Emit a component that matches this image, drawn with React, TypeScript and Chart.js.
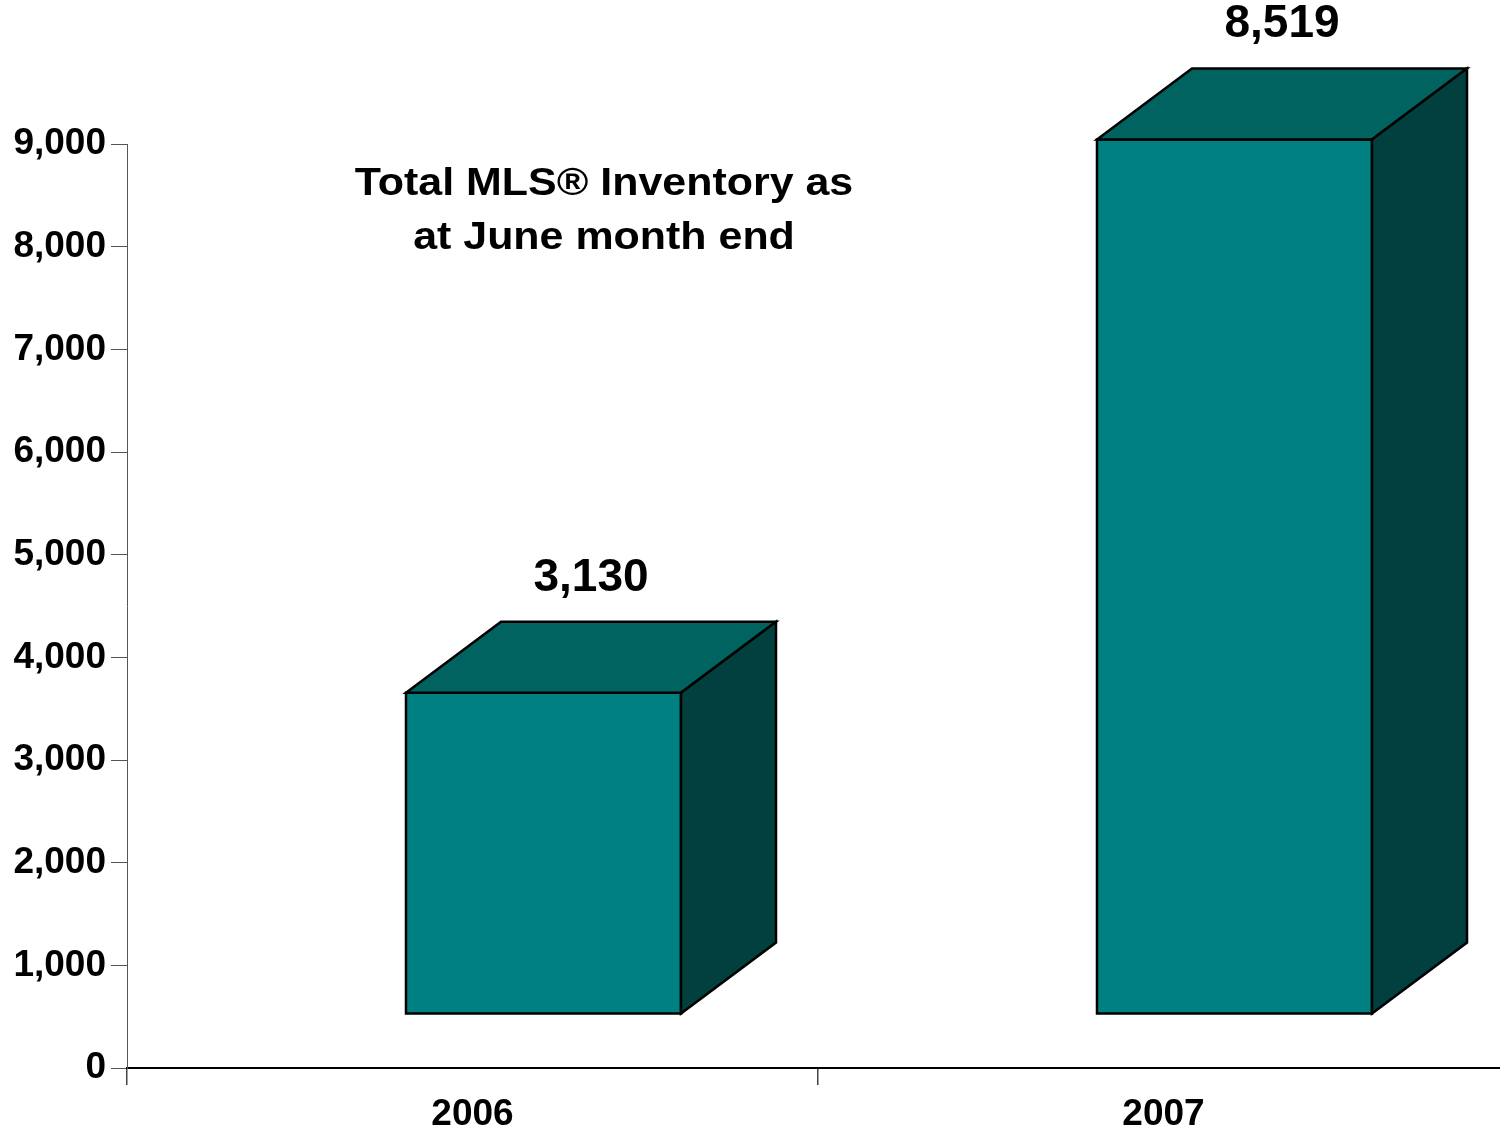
import React, { useEffect, useRef } from "react";
import { Chart, registerables } from "chart.js";

Chart.register(...registerables);

const categories = ["2006", "2007"];
const inventory = [3130, 8519];
const valueLabels = ["3,130", "8,519"];
const titleLines = ["Total MLS® Inventory as", "at June month end"];
const yMin = 0;
const yMax = 9000;
const yStep = 1000;

const FONT = 'Arial, "Liberation Sans", Helvetica, sans-serif';

export default function App() {
  const ref = useRef<HTMLCanvasElement>(null);

  useEffect(() => {
    const canvas = ref.current;
    if (!canvas) return;

    const box3d = {
      id: "box3d",
      afterDatasetsDraw(chart: any) {
        const ctx = chart.ctx as CanvasRenderingContext2D;
        const meta = chart.getDatasetMeta(0);
        const shiftX = 71;
        const shiftY = 54;
        const dx = 95;
        const dy = 71;
        meta.data.forEach((el: any, i: number) => {
          const { x, y, base, width } = el.getProps(["x", "y", "base", "width"], true);
          const l = x + shiftX - width / 2;
          const r = l + width;
          const t = y - shiftY;
          const b = base - shiftY;
          ctx.save();
          ctx.lineWidth = 2.5;
          ctx.strokeStyle = "#000";
          ctx.lineJoin = "miter";
          // front face
          ctx.fillStyle = "#008080";
          ctx.beginPath();
          ctx.rect(l, t, width, b - t);
          ctx.fill();
          ctx.stroke();
          // top face
          ctx.fillStyle = "#006360";
          ctx.beginPath();
          ctx.moveTo(l, t);
          ctx.lineTo(l + dx, t - dy);
          ctx.lineTo(r + dx, t - dy);
          ctx.lineTo(r, t);
          ctx.closePath();
          ctx.fill();
          ctx.stroke();
          // side face
          ctx.fillStyle = "#024040";
          ctx.beginPath();
          ctx.moveTo(r, t);
          ctx.lineTo(r + dx, t - dy);
          ctx.lineTo(r + dx, b - dy);
          ctx.lineTo(r, b);
          ctx.closePath();
          ctx.fill();
          ctx.stroke();
          // value label
          ctx.fillStyle = "#000";
          ctx.font = `bold 46px ${FONT}`;
          ctx.textAlign = "center";
          ctx.textBaseline = "alphabetic";
          ctx.fillText(valueLabels[i], l + (width + dx) / 2, t - dy - 31);
          ctx.restore();
        });

        // title text inside plot
        ctx.save();
        ctx.fillStyle = "#000";
        ctx.font = `bold 38px ${FONT}`;
        ctx.textAlign = "center";
        ctx.textBaseline = "alphabetic";
        const cx = 604;
        const baselines = [195, 249];
        titleLines.forEach((line, k) => {
          ctx.save();
          ctx.translate(cx, baselines[k]);
          ctx.scale(1.13, 1);
          ctx.fillText(line, 0, 0);
          ctx.restore();
        });
        ctx.restore();
      },
    };

    const chart = new Chart(canvas, {
      type: "bar",
      data: {
        labels: categories,
        datasets: [
          {
            data: inventory,
            backgroundColor: "rgba(0,0,0,0)",
            borderWidth: 0,
            barPercentage: 0.398,
            categoryPercentage: 1,
          },
        ],
      },
      options: {
        animation: false,
        responsive: false,
        devicePixelRatio: 1,
        layout: { padding: { top: 144, left: 0, right: 0, bottom: 0 } },
        plugins: {
          legend: { display: false },
          tooltip: { enabled: false },
          title: { display: false },
        },
        scales: {
          x: {
            offset: true,
            ticks: {
              color: "#000",
              font: { family: FONT, size: 37, weight: "bold" },
              padding: 8,
            },
            grid: {
              offset: true,
              drawOnChartArea: false,
              drawTicks: true,
              tickLength: 17,
              color: "#444",
              lineWidth: 1.5,
            },
            border: { display: true, color: "#000", width: 2 },
            afterFit: (s: any) => {
              s.height = 70;
            },
          },
          y: {
            min: yMin,
            max: yMax,
            ticks: {
              stepSize: yStep,
              color: "#000",
              font: { family: FONT, size: 37, weight: "bold" },
              padding: 5,
              callback: (v: any) => Number(v).toLocaleString("en-US"),
            },
            grid: {
              drawOnChartArea: false,
              drawTicks: true,
              tickLength: 16,
              color: "#555",
              lineWidth: 1,
            },
            border: { display: true, color: "#555", width: 1 },
            afterFit: (s: any) => {
              s.width = 127;
            },
          },
        },
      },
      plugins: [box3d],
    } as any);

    return () => chart.destroy();
  }, []);

  return (
    <div
      style={{
        position: "fixed",
        left: 0,
        top: 0,
        width: 1500,
        height: 1138,
        overflow: "hidden",
        background: "#fff",
      }}
    >
      <canvas ref={ref} width={1509} height={1138} style={{ display: "block" }} />
    </div>
  );
}
